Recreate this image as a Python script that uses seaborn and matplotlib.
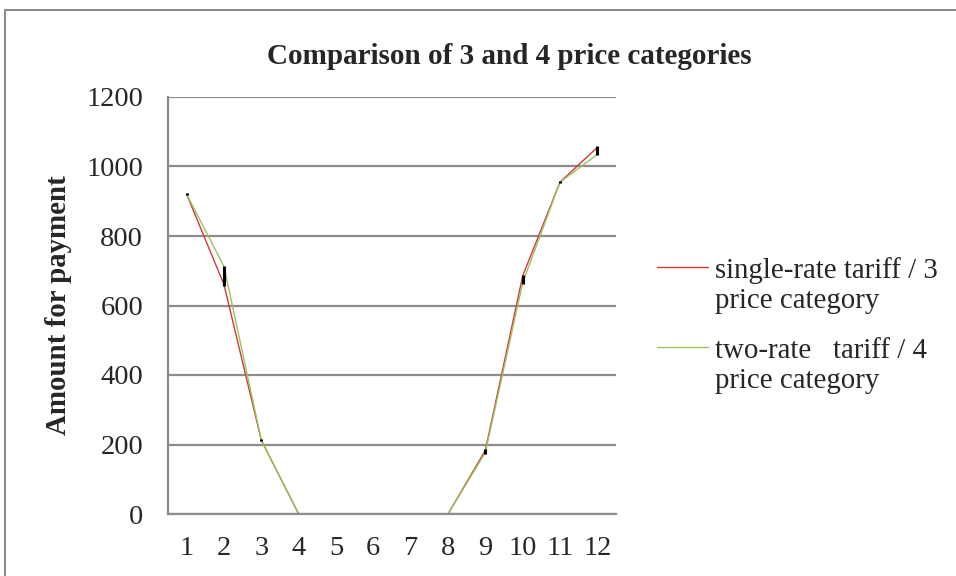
import matplotlib
matplotlib.use("Agg")
import matplotlib.pyplot as plt
import seaborn as sns
import pandas as pd
from matplotlib.patches import Rectangle
from matplotlib.legend_handler import HandlerLine2D

months = list(range(1, 13))
month_labels = [str(m) for m in months]
single_rate = [920, 660, 212, 0, 0, 0, 0, 0, 183, 685, 955, 1055]
two_rate = [920, 712, 212, 0, 0, 0, 0, 0, 177, 665, 955, 1035]
series_names = ["single-rate tariff / 3\nprice category", "two-rate   tariff / 4\nprice category"]
colors = ["#D0393C", "#9BC35A"]

df = pd.DataFrame({
    "month": months * 2,
    "value": single_rate + two_rate,
    "series": [series_names[0]] * 12 + [series_names[1]] * 12,
})

sns.set_style("white")
plt.rcParams["font.family"] = ["Liberation Serif", "DejaVu Serif"]

FS = 20.8

fig = plt.figure(figsize=(9.56, 5.76), dpi=100)
ax = fig.add_axes([168 / 956, 1 - 514 / 576, (616 - 168) / 956, (514 - 97) / 576])

sns.lineplot(data=df, x="month", y="value", hue="series", palette=colors,
             linewidth=1.0, ax=ax, legend=True)

lo = [min(a, b) for a, b in zip(single_rate, two_rate)]
hi = [max(a, b) for a, b in zip(single_rate, two_rate)]
ax.vlines([m for m, l in zip(months, lo) if l > 0],
          [l - 3 for l in lo if l > 0],
          [h + 3 for h, l in zip(hi, lo) if l > 0],
          color="black", linewidth=2.2, zorder=5)

ax.set_xlim(0.5, 12.5)
ax.set_ylim(0, 1200)
ax.set_yticks(range(0, 1201, 200))
ax.set_xticks(months)
ax.set_xticklabels(month_labels)
ax.yaxis.grid(True, color="#8c8c8c", linewidth=1.6)
ax.set_axisbelow(True)
for s in ["top", "right"]:
    ax.spines[s].set_visible(False)
for s in ["left", "bottom"]:
    ax.spines[s].set_color("#8c8c8c")
    ax.spines[s].set_linewidth(1.6)
ax.tick_params(axis="y", length=6, width=1.6, color="#8c8c8c", pad=12, labelsize=20.5)
ax.tick_params(axis="x", length=0, pad=16, labelsize=20.5)
ax.set_xlabel("")
ax.set_ylabel("Amount for payment", fontsize=FS, fontweight="bold")
ax.yaxis.set_label_coords(-0.214, 0.5)


class ShiftedLine(HandlerLine2D):
    def create_artists(self, legend, orig_handle, xdescent, ydescent, width, height, fontsize, trans):
        arts = super().create_artists(legend, orig_handle, xdescent, ydescent, width, height, fontsize, trans)
        for a in arts:
            a.set_ydata([y + 13.5 for y in a.get_ydata()])
        return arts


handles, labels = ax.get_legend_handles_labels()
leg = ax.legend(handles, labels, loc="upper left", bbox_to_anchor=(657 / 956, 1 - 257 / 576),
                bbox_transform=fig.transFigure, frameon=False, borderpad=0, borderaxespad=0,
                fontsize=FS, handlelength=1.75, handletextpad=0.25, labelspacing=0.82,
                handler_map={type(handles[0]): ShiftedLine()})
for t in leg.get_texts():
    t.set_linespacing(1.2)
for line in leg.get_lines():
    line.set_linewidth(1.0)

fig.text(509 / 956, 1 - 56 / 576, "Comparison of 3 and 4 price categories",
         ha="center", va="center", fontsize=21, fontweight="bold")

fig.patches.append(Rectangle((5 / 956, -0.02), 1.1, 1 - 10 / 576 + 0.02,
                             transform=fig.transFigure, fill=False,
                             edgecolor="#8c8c8c", linewidth=1.5))

fig.savefig("out.png", dpi=100)
